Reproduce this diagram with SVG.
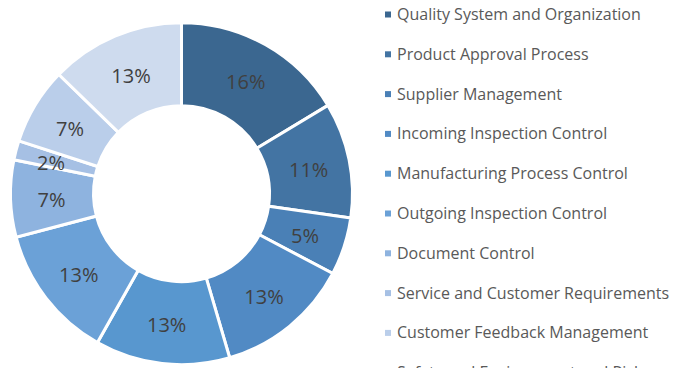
<svg xmlns="http://www.w3.org/2000/svg" width="674" height="368" viewBox="0 0 674 368">
<style>
.s{stroke:#fff;stroke-width:3;stroke-linejoin:miter}
.p{font-family:"Open Sans","Liberation Sans",sans-serif;font-size:20px;fill:#404040;text-anchor:middle}
.l{font-family:"Open Sans","Liberation Sans",sans-serif;font-size:16px;fill:#595959}
.c1{fill:#3B6790}.c2{fill:#4374A3}.c3{fill:#4A80B6}.c4{fill:#518AC4}.c5{fill:#5897CF}
.c6{fill:#6BA1D7}.c7{fill:#8EB3DF}.c8{fill:#A6C0E4}.c9{fill:#BACEEA}.c10{fill:#CEDBEE}
</style>
<rect width="674" height="368" fill="#fff"/>
<g id="donut">
<g id="slice1"><path class="s c1" d="M181.5,22.7 A171,171 0 0 1 327.94,105.4 L256.86,148.26 A88,88 0 0 0 181.5,105.7 Z"/><text class="p" x="245.8" y="89.3">16%</text></g>
<g id="slice2"><path class="s c2" d="M327.94,105.4 A171,171 0 0 1 350.76,218.04 L268.6,206.22 A88,88 0 0 0 256.86,148.26 Z"/><text class="p" x="308.7" y="176.7">11%</text></g>
<g id="slice3"><path class="s c3" d="M350.76,218.04 A171,171 0 0 1 332.75,273.49 L259.34,234.76 A88,88 0 0 0 268.6,206.22 Z"/><text class="p" x="305" y="242.7">5%</text></g>
<g id="slice4"><path class="s c4" d="M332.75,273.49 A171,171 0 0 1 229.68,357.77 L206.29,278.14 A88,88 0 0 0 259.34,234.76 Z"/><text class="p" x="264" y="304">13%</text></g>
<g id="slice5"><path class="s c5" d="M229.68,357.77 A171,171 0 0 1 97.41,342.6 L138.23,270.33 A88,88 0 0 0 206.29,278.14 Z"/><text class="p" x="166.7" y="331.7">13%</text></g>
<g id="slice6"><path class="s c6" d="M97.41,342.6 A171,171 0 0 1 16.11,237.18 L96.39,216.07 A88,88 0 0 0 138.23,270.33 Z"/><text class="p" x="78.8" y="281.7">13%</text></g>
<g id="slice7"><path class="s c7" d="M16.11,237.18 A171,171 0 0 1 13.91,159.74 L95.25,176.22 A88,88 0 0 0 96.39,216.07 Z"/><text class="p" x="51.5" y="206.7">7%</text></g>
<g id="slice8"><path class="s c8" d="M13.91,159.74 A171,171 0 0 1 18.87,140.86 L97.81,166.51 A88,88 0 0 0 95.25,176.22 Z"/><text class="p" x="51" y="170">2%</text></g>
<g id="slice9"><path class="s c9" d="M18.87,140.86 A171,171 0 0 1 58.87,74.52 L118.39,132.37 A88,88 0 0 0 97.81,166.51 Z"/><text class="p" x="70" y="135.7">7%</text></g>
<g id="slice10"><path class="s c10" d="M58.87,74.52 A171,171 0 0 1 181.5,22.7 L181.5,105.7 A88,88 0 0 0 118.39,132.37 Z"/><text class="p" x="131" y="82.7">13%</text></g>
</g>
<g id="legend">
<g id="leg1"><rect class="c1" x="385" y="11.5" width="6" height="6"/><text class="l" x="397" y="20">Quality System and Organization</text></g>
<g id="leg2"><rect class="c2" x="385" y="51.3" width="6" height="6"/><text class="l" x="397" y="59.8">Product Approval Process</text></g>
<g id="leg3"><rect class="c3" x="385" y="91.1" width="6" height="6"/><text class="l" x="397" y="99.6">Supplier Management</text></g>
<g id="leg4"><rect class="c4" x="385" y="130.9" width="6" height="6"/><text class="l" x="397" y="139.4">Incoming Inspection Control</text></g>
<g id="leg5"><rect class="c5" x="385" y="170.7" width="6" height="6"/><text class="l" x="397" y="179.2">Manufacturing Process Control</text></g>
<g id="leg6"><rect class="c6" x="385" y="210.5" width="6" height="6"/><text class="l" x="397" y="219">Outgoing Inspection Control</text></g>
<g id="leg7"><rect class="c7" x="385" y="250.3" width="6" height="6"/><text class="l" x="397" y="258.8">Document Control</text></g>
<g id="leg8"><rect class="c8" x="385" y="290.1" width="6" height="6"/><text class="l" x="397" y="298.6">Service and Customer Requirements</text></g>
<g id="leg9"><rect class="c9" x="385" y="329.9" width="6" height="6"/><text class="l" x="397" y="338.4">Customer Feedback Management</text></g>
<g id="leg10"><rect class="c10" x="385" y="369.7" width="6" height="6"/><text class="l" x="397" y="377.5">Safety and Environment and Risk</text></g>
</g>
</svg>
